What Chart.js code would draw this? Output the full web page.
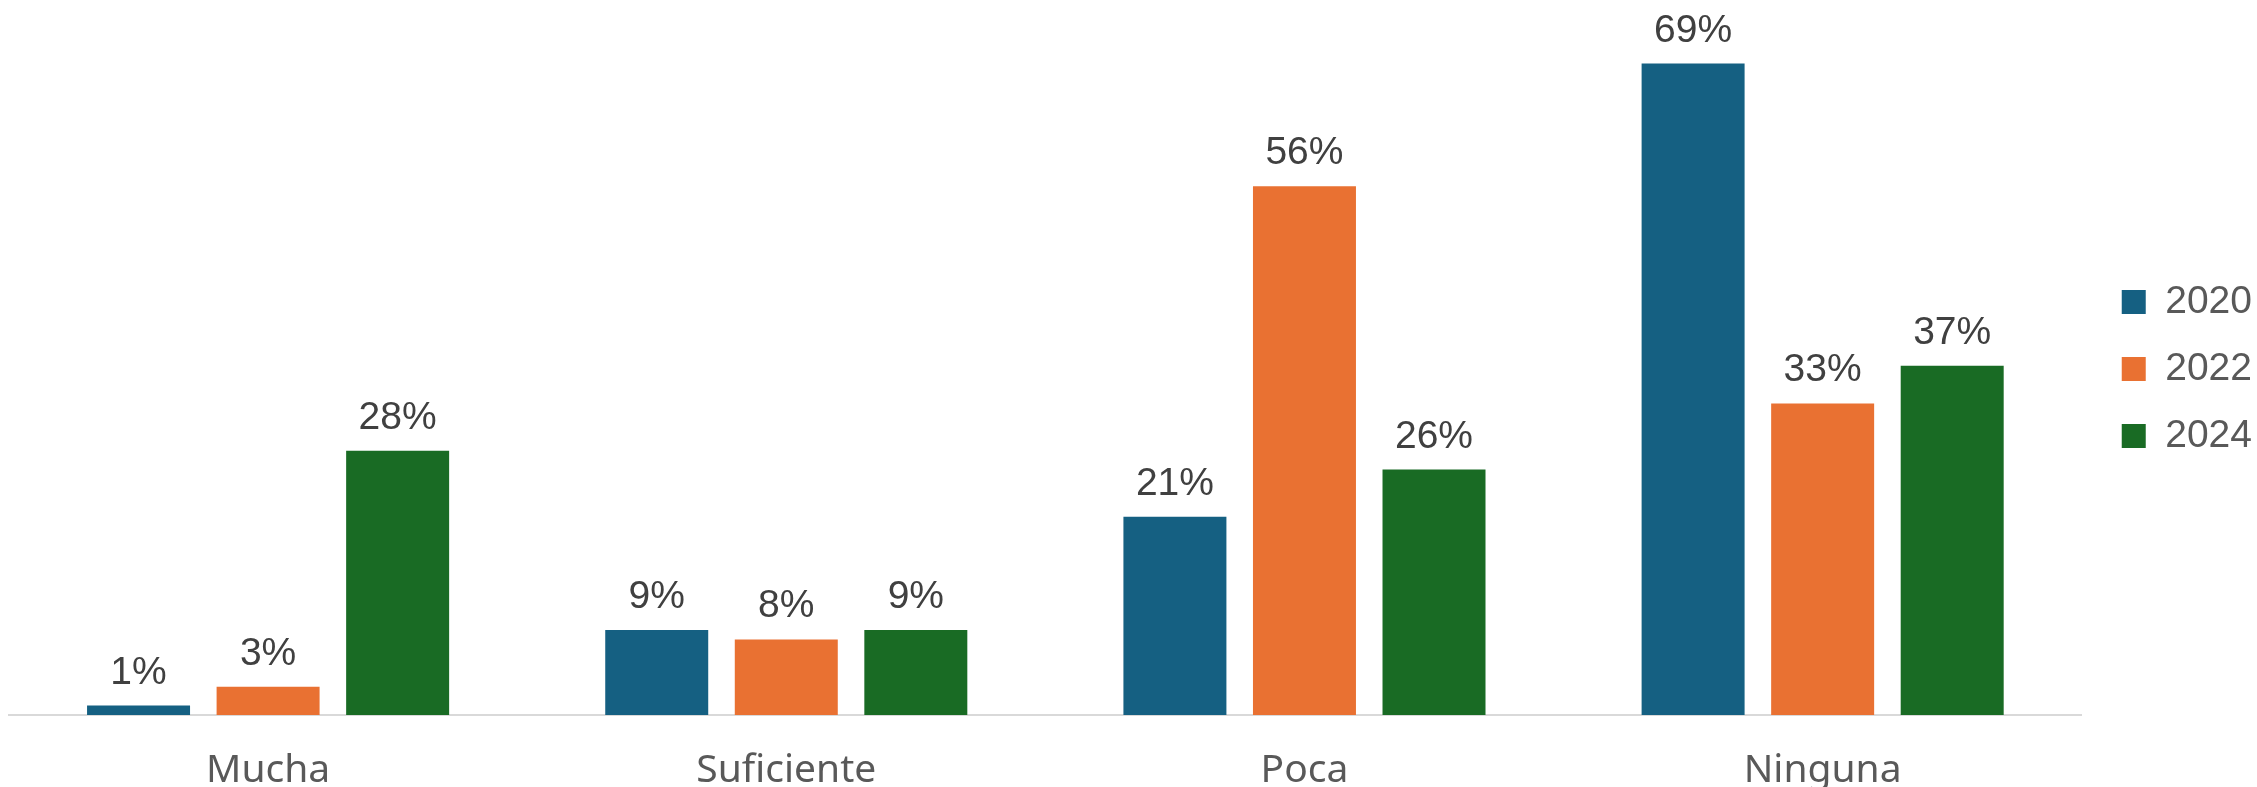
<!DOCTYPE html>
<html lang="es">
<head>
    <meta charset="UTF-8">
    <title>Mucha / Suficiente / Poca / Ninguna</title>
    <script src="https://cdn.jsdelivr.net/npm/chart.js"></script>
    <style>
        body {
            margin: 0;
            padding: 0;
            background-color: #ffffff;
        }
        canvas {
            display: block;
        }
    </style>
</head>
<body>
    <canvas id="chart" width="2257" height="787"></canvas>

    <script>
        // Datos (porcentajes)
        const categories = ['Mucha', 'Suficiente', 'Poca', 'Ninguna'];
        const years = ['2020', '2022', '2024'];
        const values2020 = [1, 9, 21, 69];
        const values2022 = [3, 8, 56, 33];
        const values2024 = [28, 9, 26, 37];
        const colors = ['#156082', '#E97132', '#196B24'];

        // Etiquetas de valor encima de cada barra
        const barLabels = {
            id: 'barLabels',
            afterDatasetsDraw(chart) {
                const ctx = chart.ctx;
                ctx.save();
                ctx.font = '39px "Liberation Sans", Arial, sans-serif';
                ctx.fillStyle = '#404040';
                ctx.textAlign = 'center';
                ctx.textBaseline = 'alphabetic';
                chart.data.datasets.forEach((ds, i) => {
                    chart.getDatasetMeta(i).data.forEach((bar, j) => {
                        ctx.fillText(ds.data[j] + '%', bar.x, bar.y - 22);
                    });
                });
                ctx.restore();
            }
        };

        // Separar un poco la leyenda del área del gráfico
        const legendShift = {
            id: 'legendShift',
            afterLayout(chart) {
                if (chart.legend) {
                    chart.legend.left += 12;
                    chart.legend.right += 12;
                }
            }
        };

        const ctx = document.getElementById('chart').getContext('2d');
        new Chart(ctx, {
            type: 'bar',
            data: {
                labels: categories,
                datasets: [
                    { label: years[0], data: values2020, backgroundColor: colors[0] },
                    { label: years[1], data: values2022, backgroundColor: colors[1] },
                    { label: years[2], data: values2024, backgroundColor: colors[2] }
                ]
            },
            options: {
                responsive: false,
                animation: false,
                categoryPercentage: 0.75,
                barPercentage: 0.795,
                layout: {
                    padding: { left: 9, top: 23, right: 7, bottom: 0 }
                },
                plugins: {
                    tooltip: { enabled: false },
                    legend: {
                        position: 'right',
                        fullSize: false,
                        labels: {
                            boxWidth: 24,
                            boxHeight: 24,
                            padding: 28,
                            color: '#595959',
                            font: { family: '"Liberation Sans", Arial, sans-serif', size: 39 }
                        }
                    }
                },
                scales: {
                    x: {
                        grid: { display: false, drawTicks: false },
                        border: { display: true, color: '#d9d9d9', width: 2 },
                        ticks: {
                            color: '#595959',
                            padding: 36,
                            font: { family: '"Noto Sans", sans-serif', size: 39, lineHeight: 1 }
                        },
                        afterFit(scale) {
                            scale.height = 72;
                        }
                    },
                    y: {
                        display: false,
                        min: 0,
                        max: 73.3
                    }
                }
            },
            plugins: [barLabels, legendShift]
        });
    </script>
</body>
</html>
